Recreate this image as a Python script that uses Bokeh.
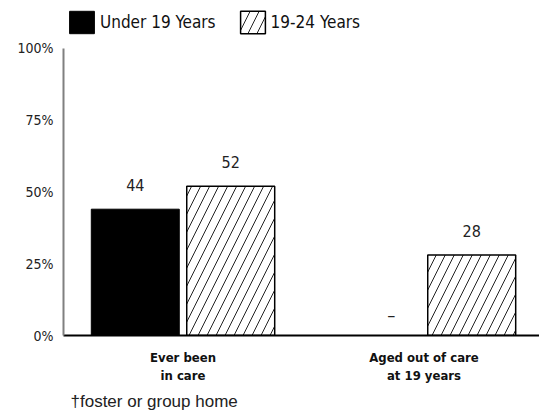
from bokeh.plotting import figure
from bokeh.models import (ColumnDataSource, FixedTicker, Legend, LegendItem,
                          Title, Range1d, PrintfTickFormatter)
from bokeh.core.properties import value
from bokeh.embed import file_html
from bokeh.resources import INLINE

# --- data -------------------------------------------------------------
categories = ["Ever been\nin care", "Aged out of care\nat 19 years"]
series = ["Under 19 Years", "19-24 Years"]
under_19 = [44, None]        # None = no estimate shown ("–")
age_19_24 = [52, 28]
y_ticks = [0, 25, 50, 75, 100]
footnote = "\u2020foster or group home"

# --- layout constants -------------------------------------------------
BAR_W = 0.365
OFFSET = 0.198
Y_TOP = 116.7        # headroom above 100% for the legend row
COND = "DejaVu Sans Condensed"
SANS = "Liberation Sans"

idx = list(range(len(categories)))

p = figure(width=539, height=414, output_backend="svg", toolbar_location=None,
           x_range=Range1d(-0.4959, 1.4793), y_range=Range1d(0, Y_TOP),
           min_border_left=63, min_border_right=0, min_border_top=0,
           min_border_bottom=79)
p.outline_line_color = None
p.grid.visible = False
p.background_fill_color = "white"

# bars
u_x = [i - OFFSET for i, v in zip(idx, under_19) if v is not None]
u_y = [v for v in under_19 if v is not None]
src_u = ColumnDataSource(dict(x=u_x, top=u_y, lab=[str(v) for v in u_y]))
src_a = ColumnDataSource(dict(x=[i + OFFSET for i in idx], top=age_19_24,
                              lab=[str(v) for v in age_19_24]))

r_u = p.vbar(x="x", top="top", width=BAR_W, source=src_u,
             fill_color="black", line_color="black", line_width=1)
r_a = p.vbar(x="x", top="top", width=BAR_W, source=src_a,
             fill_color="white", line_color="black", line_width=1.5,
             hatch_pattern="/", hatch_color="#222222", hatch_scale=18,
             hatch_weight=1)

# value labels
for src in (src_u, src_a):
    p.text(x="x", y="top", text="lab", source=src, text_align="center",
           text_baseline="alphabetic", y_offset=-24,
           text_font=value(COND), text_font_size="16px", text_color="#222222")

# dash for the missing estimate
missing = [i - OFFSET for i, v in zip(idx, under_19) if v is None]
p.text(x=missing, y=[0] * len(missing), text=["\u2013"] * len(missing),
       text_align="center", text_baseline="alphabetic", y_offset=-21,
       x_offset=15, text_font=value(COND), text_font_size="18px",
       text_color="#222222")

# y axis (line limited to 0-100%)
ya = p.yaxis[0]
ya.bounds = (0, 100)
ya.ticker = FixedTicker(ticks=y_ticks, minor_ticks=[])
ya.formatter = PrintfTickFormatter(format="%d%%")
ya.axis_line_color = "#808080"
ya.axis_line_width = 2
ya.major_tick_line_color = None
ya.minor_tick_line_color = None
ya.major_label_standoff = 4
ya.major_label_text_font = COND
ya.major_label_text_font_size = "14px"
ya.major_label_text_color = "#222222"

# x axis
xa = p.xaxis[0]
xa.ticker = FixedTicker(ticks=idx, minor_ticks=[])
xa.major_label_overrides = {i: c for i, c in zip(idx, categories)}
xa.axis_line_color = "black"
xa.axis_line_width = 2
xa.major_tick_line_color = None
xa.minor_tick_line_color = None
xa.major_label_standoff = 8
xa.major_label_text_font = COND
xa.major_label_text_font_style = "bold"
xa.major_label_text_font_size = "13px"
xa.major_label_text_color = "#111111"

# legend row above the bars
legend = Legend(items=[LegendItem(label=series[0], renderers=[r_u]),
                       LegendItem(label=series[1], renderers=[r_a])],
                orientation="horizontal", location=(3, 299),
                glyph_width=31, glyph_height=28, label_height=28,
                label_standoff=3, spacing=21, padding=0, margin=0,
                border_line_color=None, background_fill_alpha=0,
                label_text_font=COND, label_text_font_size="17px",
                label_text_color="#111111")
p.add_layout(legend)

# footnote
note = Title(text=footnote, align="left", offset=7, standoff=8,
             text_font=SANS, text_font_size="17px", text_font_style="normal",
             text_color="#222222")
p.add_layout(note, "below")

open("out.html", "w").write(file_html(p, INLINE))
